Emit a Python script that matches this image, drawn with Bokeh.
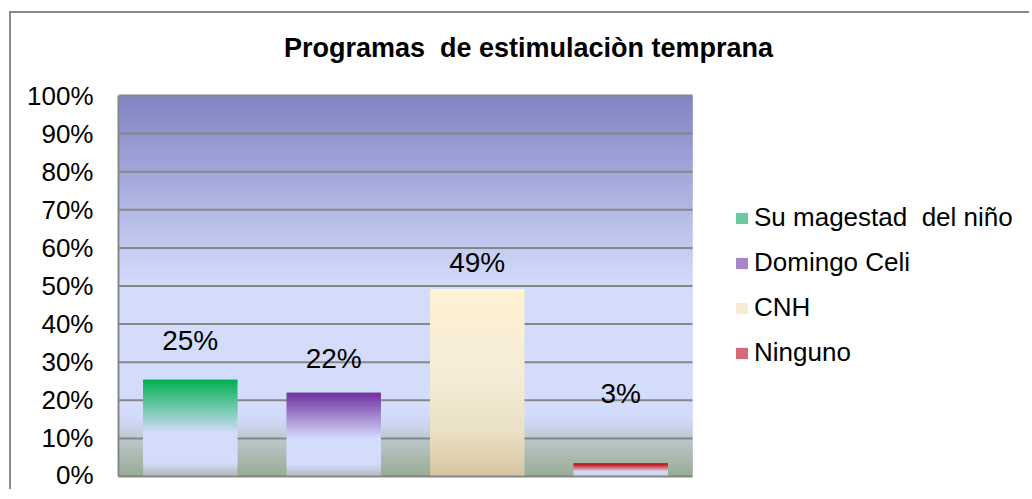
import numpy as np
from bokeh.plotting import figure
from bokeh.models import Range1d, FixedTicker, Legend, LegendItem, ColumnDataSource, Label
from bokeh.embed import file_html
from bokeh.resources import INLINE
from bokeh.core.properties import value

# ---------------- data ----------------
title_text = "Programas \u00a0de estimulaciòn temprana"
categories = ["Su magestad \u00a0del niño", "Domingo Celi", "CNH", "Ninguno"]
shares = [0.254, 0.220, 0.492, 0.034]
label_anchor = [0.357, 0.310, 0.562, 0.218]   # where the data labels sit
y_ticks = [0.0, 0.1, 0.2, 0.3, 0.4, 0.5, 0.6, 0.7, 0.8, 0.9, 1.0]
y_tick_labels = ["0%", "10%", "20%", "30%", "40%", "50%", "60%", "70%", "80%", "90%", "100%"]

# ---------------- styles ----------------
FONT = "Liberation Sans"
LAV = "#d4dcfc"
bar_stops = [
    [(0.0, "#00b050"), (0.55, LAV), (0.86, LAV), (1.0, "#adb9b0")],
    [(0.0, "#7030a0"), (0.55, LAV), (0.85, LAV), (1.0, "#b0bcb8")],
    [(0.0, "#fff1d2"), (0.45, "#f5ecd8"), (0.75, "#ebe1c6"), (1.0, "#d6c5a0")],
    [(0.0, "#c00000"), (0.6, LAV), (1.0, "#c8d4e4")],
]
legend_colors = ["#6cc8a0", "#a884cc", "#f6ecd6", "#d46a78"]
bg_stops = [(0.0, "#97ab95"), (0.1, "#bcc8cc"), (0.13, "#cbd4ec"), (0.17, LAV),
            (0.5, LAV), (1.0, "#8084c2")]
GRID = "#878787"

# ---------------- layout (pixels) ----------------
W, H = 1020, 478
PLOT_LEFT, PLOT_W, PLOT_H, BOTTOM = 107, 574, 381, 15
NCAT = len(categories)
x_end = NCAT * (W - PLOT_LEFT) / PLOT_W
y_end = (H - BOTTOM) / PLOT_H


def hex2rgb(h):
    h = h.lstrip("#")
    return np.array([int(h[i:i + 2], 16) for i in (0, 2, 4)], dtype=float)


def interp(stops, t):
    pos = [s[0] for s in stops]
    cols = [hex2rgb(s[1]) for s in stops]
    t = min(max(t, 0.0), 1.0)
    for k in range(len(pos) - 1):
        if pos[k] <= t <= pos[k + 1]:
            f = (t - pos[k]) / (pos[k + 1] - pos[k]) if pos[k + 1] > pos[k] else 0
            c = cols[k] * (1 - f) + cols[k + 1] * f
            return "#%02x%02x%02x" % tuple(int(round(x)) for x in c)
    c = cols[-1]
    return "#%02x%02x%02x" % tuple(int(round(x)) for x in c)


p = figure(width=W, height=H, output_backend="svg", toolbar_location=None,
           x_range=Range1d(0, x_end), y_range=Range1d(0, y_end),
           min_border_left=PLOT_LEFT, min_border_right=0, min_border_top=0,
           min_border_bottom=BOTTOM,
           background_fill_color="white", border_fill_color="white",
           outline_line_color=None,
           styles={"border-left": "2px solid #898989", "border-top": "2px solid #898989",
                   "margin-left": "9px", "margin-top": "11px"})

# background gradient of the plot area
nbg = 200
edges = np.linspace(0, 1, nbg + 1)
step = edges[1] - edges[0]
bg = ColumnDataSource(dict(
    left=[0] * nbg, right=[NCAT] * nbg,
    bottom=list(edges[:-1]), top=[min(e + step * 1.6, 1.0) for e in edges[1:]],
    color=[interp(bg_stops, (edges[k] + edges[k + 1]) / 2) for k in range(nbg)]))
rbg = p.quad(left="left", right="right", bottom="bottom", top="top", fill_color="color",
             line_color=None, source=bg)
rbg.level = "image"

# horizontal gridlines, only across the plot area
rg = p.segment(x0=[0] * len(y_ticks), x1=[NCAT] * len(y_ticks), y0=y_ticks, y1=y_ticks,
               line_color=GRID, line_width=2)
rg.level = "underlay"

# bars as stacks of thin slices (vertical gradient)
bar_w = 0.655
ns = 90
for i, v in enumerate(shares):
    e = np.linspace(0, v, ns + 1)
    st = e[1] - e[0]
    cx = i + 0.5
    src = ColumnDataSource(dict(
        left=[cx - bar_w / 2] * ns, right=[cx + bar_w / 2] * ns,
        bottom=list(e[:-1]), top=[min(x + st * 1.6, v) for x in e[1:]],
        color=[interp(bar_stops[i], 1 - ((e[k] + e[k + 1]) / 2) / v) for k in range(ns)]))
    p.quad(left="left", right="right", bottom="bottom", top="top", fill_color="color",
           line_color=None, source=src)

# value labels
lab = ColumnDataSource(dict(x=[i + 0.5 for i in range(len(shares))], y=label_anchor,
                            text=["%d%%" % round(v * 100) for v in shares]))
p.text(x="x", y="y", text="text", source=lab, text_align="center", text_baseline="middle",
       text_font=value(FONT), text_font_size="28px", text_color="black")

# legend (zero-size renderers carrying the colours)
items = []
for name, col in zip(categories, legend_colors):
    r = p.quad(left=[0], right=[0], bottom=[0], top=[0], fill_color=col, line_color=None)
    items.append(LegendItem(label=name, renderers=[r]))
legend = Legend(items=items, location=(616, 108), orientation="vertical",
                padding=0, margin=0, spacing=14, glyph_width=15, glyph_height=14,
                label_standoff=5, label_text_font=FONT, label_text_font_size="26px",
                label_text_color="black", border_line_color=None, background_fill_alpha=0)
p.add_layout(legend, "center")

# axes
p.xgrid.visible = False
p.ygrid.visible = False

p.yaxis.bounds = (0, 1)
p.yaxis.ticker = FixedTicker(ticks=y_ticks)
p.yaxis.major_label_overrides = {t: l for t, l in zip(y_ticks, y_tick_labels)}
p.yaxis.major_label_text_font = FONT
p.yaxis.major_label_text_font_size = "26px"
p.yaxis.major_label_text_color = "black"
p.yaxis.major_tick_line_color = None
p.yaxis.minor_tick_line_color = None
p.yaxis.axis_line_color = GRID
p.yaxis.axis_line_width = 2
p.yaxis.major_label_standoff = 19

p.xaxis.bounds = (0, NCAT)
p.xaxis.ticker = FixedTicker(ticks=[])
p.xaxis.axis_line_color = GRID
p.xaxis.axis_line_width = 2
p.xaxis.major_tick_line_color = None
p.xaxis.minor_tick_line_color = None

# chart title, centred over the whole chart box
title = Label(x=(517 - PLOT_LEFT) / PLOT_W * NCAT, y=(H - BOTTOM - 34) / PLOT_H,
              text=title_text, text_align="center", text_baseline="middle",
              text_font=FONT, text_font_style="bold", text_font_size="27px",
              text_color="black")
p.add_layout(title)

open("out.html", "w").write(file_html(p, INLINE))
